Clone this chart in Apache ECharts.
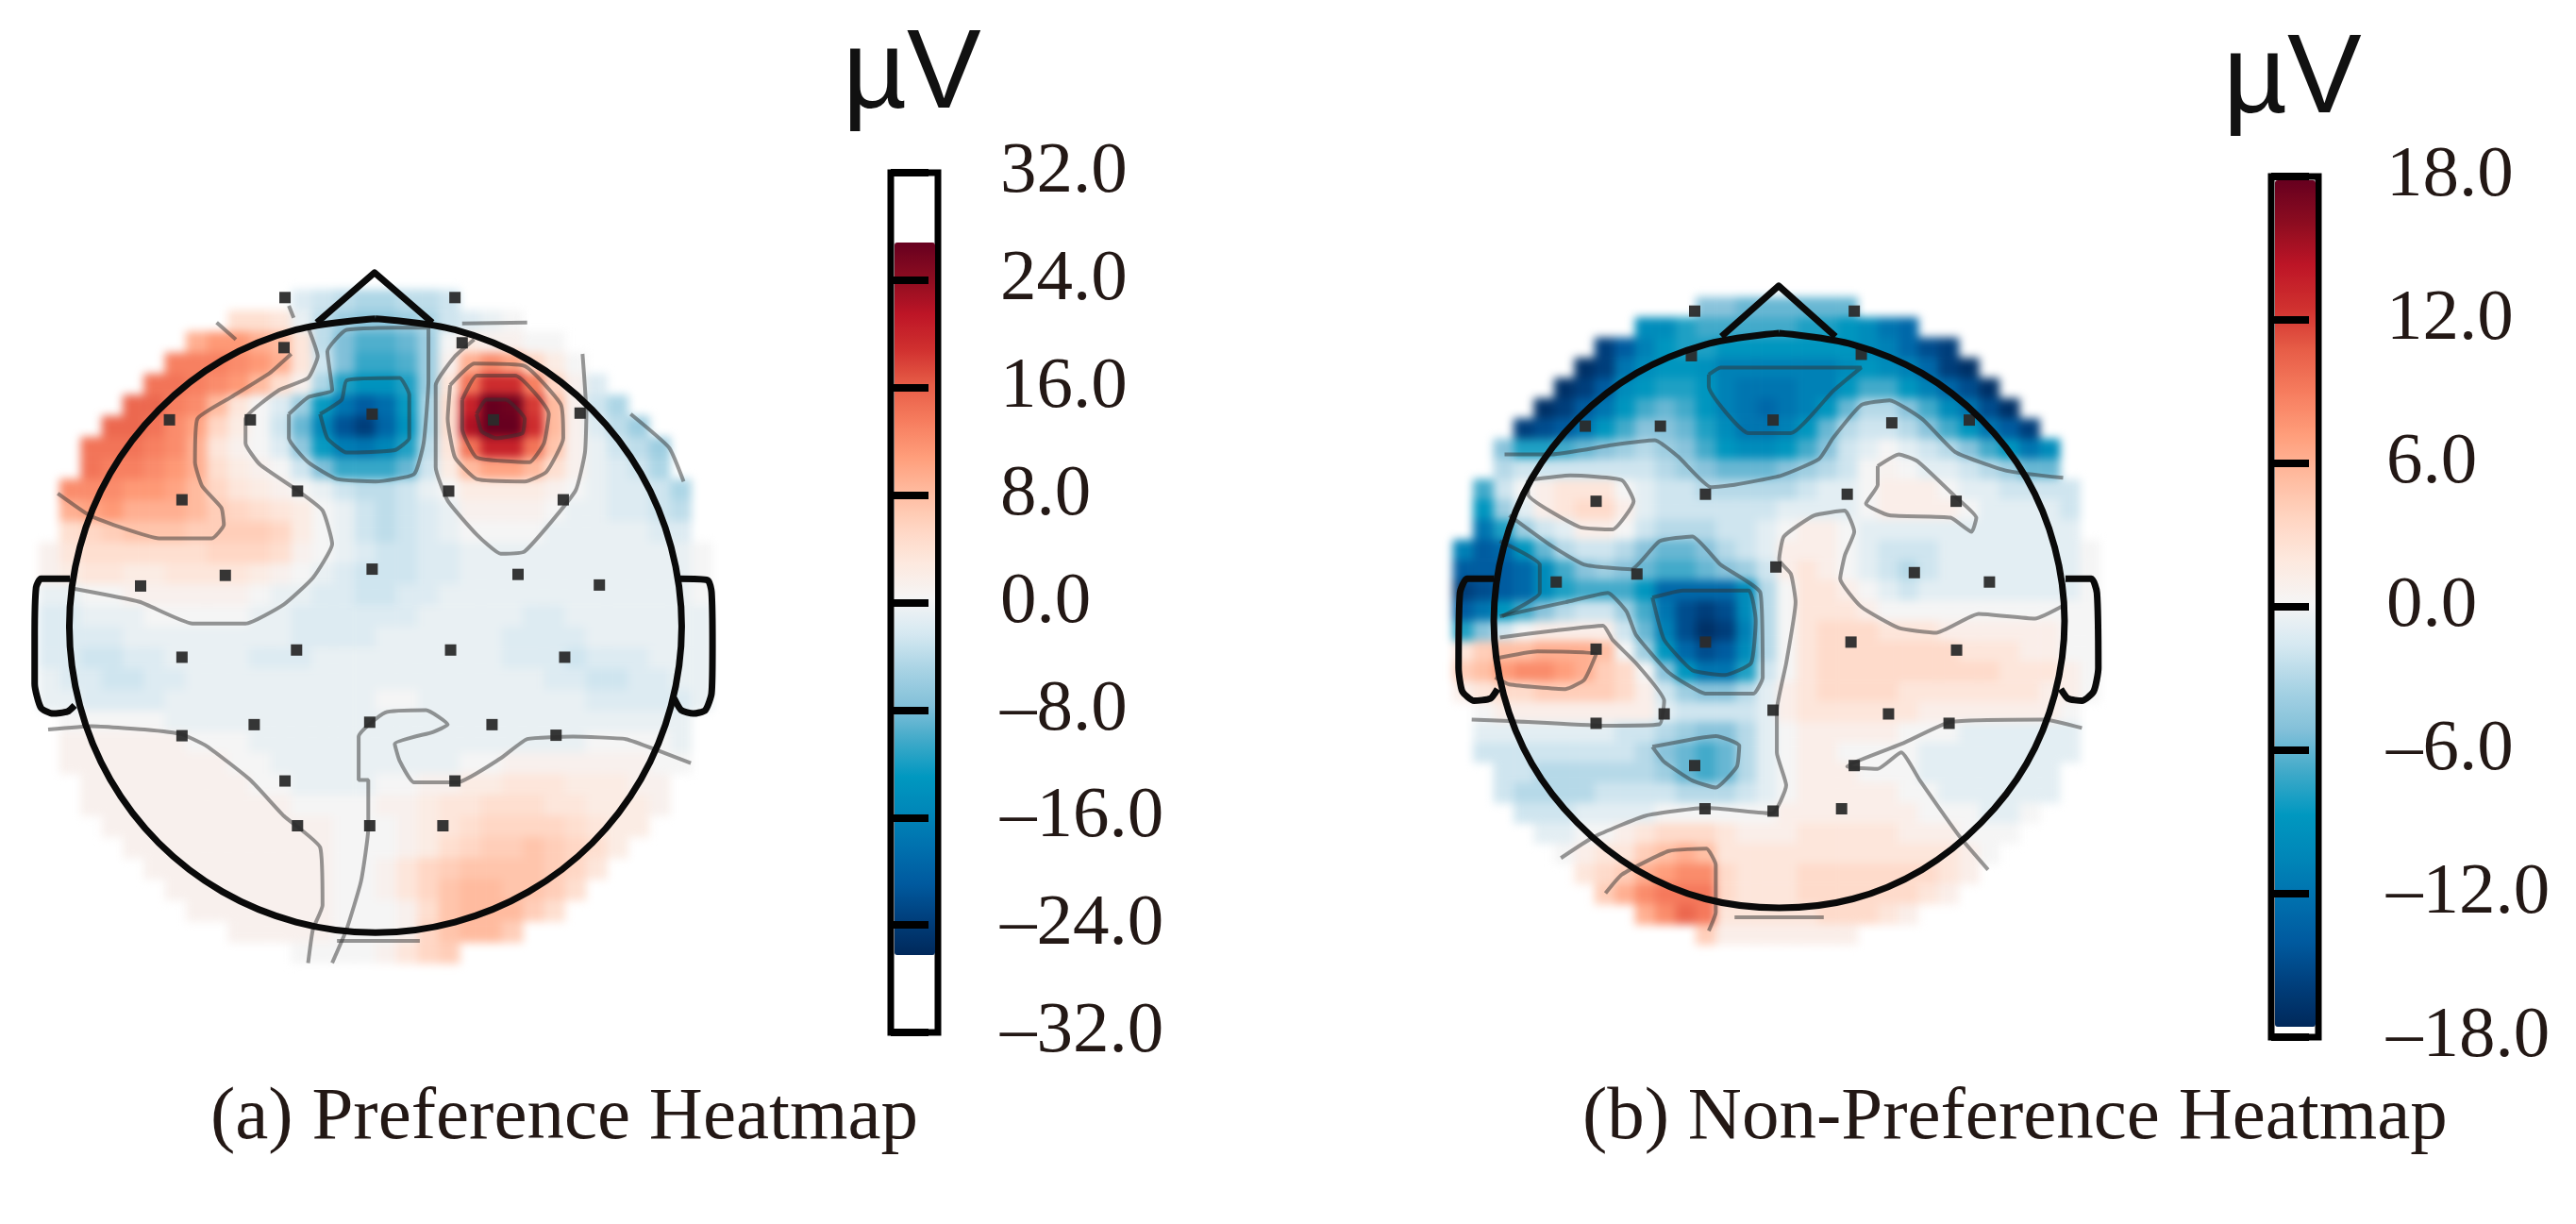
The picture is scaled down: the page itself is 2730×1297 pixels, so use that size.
<!DOCTYPE html>
<html><head><meta charset="utf-8">
<style>html,body{margin:0;padding:0;background:#fff}#c{width:2730px;height:1297px}</style>
<script src="https://cdn.jsdelivr.net/npm/echarts@6/dist/echarts.min.js"></script>
</head><body><div id="c"></div>
<script>
// Colour scale
const paletteStops = ['#00285a','#003f7c','#005a9f','#0070ae','#0086b8','#0098c0','#3fa9c9','#82c0d9','#a8d3e4','#d5e8f1','#f5f5f5','#fde9df','#ffd5c2','#ffbb9f','#ff9d7a','#f67c5e','#e75d47','#d0302f','#bd1526','#8c0c20','#67001f'];
const rangeA = 26.6, rangeB = 17.7;

// Scalp voltage (µV) by image row; every row is centred in the 32-cell-wide map
const rowsA = [
[-2,-3,-4,-5,-5,-4,-4,-3],
[4,4,3,-1,-4,-6,-7,-7,-6,-5,-3,-2,-1,0],
[9,11,11,9,8,3,-4,-8,-10,-10,-9,-6,0,2,1,1,0,0],
[13,13,13,12,11,9,3,-3,-8,-11,-11,-10,-6,1,9,12,10,5,2,0],
[14,14,13,12,11,8,4,1,-5,-12,-14,-14,-12,-6,3,14,19,19,13,5,1,-2],
[15,15,13,12,8,3,0,-2,-6,-13,-18,-21,-19,-13,-5,4,20,27,26,18,8,1,-3,-5],
[15,15,14,12,10,5,2,0,-3,-9,-16,-22,-24,-20,-14,-5,4,22,27,27,19,8,1,-2,-4,-6],
[14,14,14,13,12,9,3,1,0,-2,-7,-13,-17,-18,-16,-12,-4,3,14,20,20,14,7,1,-1,-3,-4,-6],
[14,13,13,12,11,9,4,2,1,0,-3,-8,-11,-11,-11,-9,-3,2,8,10,10,8,4,1,-1,-2,-3,-5],
[12,12,12,11,11,10,8,5,3,2,1,0,-1,-3,-4,-4,-3,-1,0,2,2,2,2,1,0,-1,-2,-2,-3,-5],
[9,10,11,9,9,9,8,6,5,4,3,2,0,-1,-3,-4,-3,-2,-1,1,1,1,1,0,-1,-1,-2,-2,-3,-4],
[4,5,6,7,7,7,6,6,6,6,5,2,0,-1,-3,-4,-3,-2,-1,0,0,0,0,-1,-1,-1,-1,-1,-2,-2],
[1,3,4,4,4,4,4,4,5,5,5,4,1,0,-1,-2,-3,-3,-2,-2,-1,-1,-1,-1,-1,-1,-1,-1,-1,-1,-1,0],
[1,2,3,3,2,2,3,3,3,3,2,1,0,-1,-2,-3,-3,-3,-2,-2,-1,-1,-1,-1,-1,-1,-1,-1,-1,-1,-1,0],
[-1,-1,0,0,1,1,1,1,1,1,0,-1,-1,-2,-2,-3,-3,-2,-2,-1,-1,-1,-1,-1,-1,-1,-1,-1,-1,-1,-1,0],
[-2,-2,-1,-1,-1,0,0,0,0,0,-1,-1,-2,-2,-2,-2,-2,-2,-1,-1,-1,-1,-1,-2,-2,-1,-1,-1,-1,-1,-1,-1],
[-2,-2,-2,-2,-1,-1,-1,-1,-1,-1,-1,-1,-2,-2,-2,-2,-1,-1,-1,-1,-1,-1,-2,-2,-2,-2,-1,-1,-1,-1,-1,-1],
[-2,-2,-3,-3,-2,-2,-1,-1,-1,-1,-2,-2,-2,-1,-1,-1,-1,-1,-1,-1,-1,-1,-2,-2,-2,-3,-2,-2,-2,-1,-1,-1],
[-1,-2,-2,-3,-3,-2,-2,-1,-1,-1,-1,-1,-1,-1,-1,-1,-1,-1,-1,-1,-1,-1,-1,-1,-2,-2,-3,-3,-2,-2,-1,-1],
[-1,-1,-2,-2,-2,-2,-1,-1,-1,-1,-1,-1,-1,-1,-1,-1,0,0,-1,-1,-1,-1,-1,-1,-1,-1,-2,-2,-2,-2,-2,-1],
[0,0,0,0,0,-1,-1,-1,-1,-1,-1,-1,-1,-1,-1,-1,-1,-1,-1,-1,-1,-1,-1,-1,-1,-1,-1,-1,-1,-1],
[1,1,1,1,1,1,0,0,0,-1,-1,-1,-1,-1,-1,-1,-1,-1,-1,-1,-1,-1,-1,-1,-1,0,0,0,0,-1],
[1,1,1,1,1,1,1,1,0,0,-1,-1,-1,-1,-1,-1,-1,-1,-1,0,0,1,1,1,1,1,1,1,0,0],
[1,1,1,1,1,1,1,1,0,0,-1,-1,-1,-1,0,0,1,1,2,2,3,3,3,2,2,2,1,1],
[1,1,1,1,1,1,1,1,1,1,0,0,0,0,1,1,2,3,3,4,4,4,3,3,2,2,2,1],
[1,1,1,1,1,1,1,1,1,1,1,0,0,0,1,2,3,4,5,5,5,5,4,3,2,2],
[1,1,1,1,1,1,1,1,1,1,0,0,0,1,2,4,5,6,6,7,6,5,4,2],
[1,1,1,1,1,1,1,1,1,0,0,1,3,5,6,7,7,7,7,6,5,3],
[1,1,1,1,1,1,1,1,0,0,1,3,5,7,8,8,7,7,6,4],
[1,1,1,1,1,1,1,0,0,0,1,4,7,8,8,8,6,4],
[1,1,1,1,1,0,0,0,1,5,7,8,8,6],
[0,0,0,0,1,3,5,6]
];
const rowsB = [
[-5,-5,-6,-6,-6,-6,-6,-6],
[-10,-10,-8,-7,-7,-7,-7,-7,-8,-8,-9,-10,-12,-13],
[-16,-14,-11,-9,-8,-8,-9,-9,-9,-9,-9,-9,-9,-10,-11,-13,-15,-16],
[-17,-16,-12,-10,-9,-9,-9.5,-11,-11,-11,-11,-11,-11,-10,-9,-10,-11,-13,-16,-17],
[-17,-16,-14,-10,-9,-8,-8,-9,-11,-12,-12,-12,-11,-11,-9,-7,-7,-9,-11,-13,-15,-17],
[-17,-16,-14,-12,-9,-7,-6,-7,-9,-11,-12,-13,-12,-11,-9,-6,-3,-3,-5,-7,-10,-12,-15,-17],
[-16,-15,-14,-12,-9,-7,-5,-5,-6,-8,-10,-12,-12,-11,-9,-6,-3,-2,-2,-3,-5,-7,-9,-12,-14,-16],
[-5,-8,-8,-7,-6,-5,-4,-3,-4,-5,-7,-9,-10,-10,-9,-7,-5,-2,-1,0,-1,-2,-3,-5,-7,-9,-12,-10],
[-3,-2,-2,-2,-2,-2,-2,-2,-3,-4,-5,-6,-6,-6,-5,-4,-3,-2,0,0.5,0,-1,-1,-2,-3,-4,-6,-6],
[-7,-2,0,1,2,2,2,0,-1,-2,-2,-3,-3,-3,-3,-3,-2,-1,-1,0,1,1,1,0,-1,-1,-2,-2,-2,-2],
[-9,-4,-1,1,2,3,3,1,-1,-2,-2,-2,-2,-2,-2,-1,-1,-1,-1,0,1,1,1,1,0,-1,-1,-1,-1,-2],
[-12,-8,-4,-2,-1,1,1,0,-2,-3,-3,-3,-2,-2,-1,0,1,1,0,-1,-1,-1,-1,-1,-1,-1,-1,-1,-1,-1],
[-11,-14,-13,-9,-6,-3,-2,-2,-3,-5,-6,-6,-5,-3,-2,-1,1,1,1,0,-1,-2,-2,-2,-1,-1,-1,-1,-1,-1,-1,0],
[-14,-14,-14,-13,-10,-7,-5,-4,-5,-6,-7,-7,-6,-5,-4,-2,1,2,1,0,-1,-2,-3,-2,-1,-1,-1,-1,-1,-1,-1,0],
[-16,-15,-14,-13,-10,-8,-7,-7,-7,-9,-13,-13,-13,-13,-10,-3,0,2,2,1,0,-1,-2,-1,-1,-1,-1,-1,-1,-1,-1,0],
[-14,-12,-9,-7,-5,-3,-2,-2,-4,-7,-12,-15,-16,-15,-10,-3,0,2,2,2,1,0,0,0,0,0,0,0,0,0,0,0],
[-8,-5,-2,0,1,1,1,1,-2,-6,-11,-15,-17,-16,-11,-3,0,2,3,3,3,2,2,2,1,1,1,1,1,1,0,0],
[2,4,5,5,6,6,6,5,0,-4,-9,-13,-15,-14,-10,-3,0,2,3,3,3,3,3,3,3,2,2,2,1,1,0,0],
[4,5,7,8,8,7,6,4,3,0,-5,-9,-12,-12,-8,-2,0,2,3,3,3,3,3,3,3,3,3,2,2,2,1,0],
[1,2,3,3,4,4,4,4,3,1,-2,-4,-5,-5,-3,-1,1,2,3,3,3,3,2,2,2,2,2,2,2,1,1,0],
[0,1,1,1,1,1,1,1,1,-1,-2,-2,-2,-2,-1,1,2,2,2,2,2,2,1,1,1,1,1,1,1,0],
[-1,-1,-1,-1,-1,-1,-1,-2,-2,-3,-4,-5,-5,-3,-1,0,1,1,1,1,1,0,0,0,-1,-1,-1,-1,-1,-1],
[-2,-2,-2,-2,-2,-2,-2,-2,-3,-5,-6,-7,-6,-3,-1,0,1,1,0,0,0,0,-1,-1,-1,-1,-1,-1,-1,-1],
[-2,-2,-3,-3,-3,-3,-3,-3,-4,-6,-7,-6,-3,-1,0,1,1,1,0,0,0,-1,-1,-1,-1,-1,-1,-1],
[-2,-3,-3,-3,-3,-2,-2,-2,-2,-3,-3,-3,-2,-1,0,1,1,1,1,1,0,0,-1,-1,-1,-1,-1,-1],
[-2,-2,-2,-1,-1,-1,-1,0,0,0,0,0,0,1,1,1,1,1,1,1,0,0,0,-1,-1,0],
[-1,-1,0,0,1,2,3,3,3,2,1,1,1,2,2,2,2,2,1,1,1,0,0,0],
[0,1,2,2,4,5,6,5,2,2,2,2,2,2,2,2,2,2,2,2,1,0],
[2,3,4,6,7,8,8,3,2,2,2,3,3,3,3,3,3,3,2,1],
[4,6,8,9,9,9,3,2,2,2,3,3,3,3,3,3,2,1],
[6,8,10,9,2,2,2,2,2,3,3,3,2,1],
[4,1,1,1,1,1,1,1]
];

// Electrode positions on each scalp panel (panel units)
const sensorsA = [[592,128],[945,128],[590,232],[960,222],[352,382],[520,382],[773,370],[1025,382],[1205,368],[378,548],[618,530],[932,530],[1170,548],[292,727],[468,705],[773,692],[1076,703],[1245,725],[378,875],[616,860],[936,860],[1173,875],[528,1015],[768,1010],[1022,1015],[378,1038],[1155,1037],[592,1132],[945,1132],[618,1225],[768,1225],[920,1225]];
const sensorsB = [[595,120],[935,120],[588,215],[950,212],[362,365],[522,365],[762,352],[1015,358],[1180,352],[385,525],[618,510],[920,510],[1152,525],[300,697],[472,680],[768,665],[1063,677],[1223,697],[385,840],[618,825],[928,825],[1153,842],[530,978],[762,970],[1008,978],[385,998],[1137,998],[595,1088],[935,1088],[617,1180],[762,1185],[908,1180]];

// Head outline, nose and ears
const headA = [[780,172],[945,195],[1098,258],[1230,361],[1331,493],[1394,646],[1416,811],[1394,976],[1331,1129],[1230,1261],[1098,1362],[945,1425],[780,1447],[615,1425],[462,1362],[330,1261],[229,1129],[166,976],[144,811],[166,646],[229,493],[330,361],[462,258],[615,195],[780,172]];
const noseA = [[658,180],[778,76],[898,180]];
const earLeftA = [[145,712],[85,712],[75,730],[72,830],[72,930],[85,980],[110,992],[140,988],[155,975]];
const earRightA = [[1410,712],[1470,715],[1478,740],[1480,850],[1478,950],[1465,985],[1440,992],[1415,985],[1400,960]];
const headB = [[775,167],[932,191],[1079,252],[1205,350],[1302,476],[1362,623],[1383,780],[1362,937],[1302,1084],[1205,1210],[1079,1310],[932,1372],[775,1391],[618,1372],[471,1310],[345,1210],[248,1084],[188,937],[167,780],[188,623],[248,476],[345,350],[471,252],[618,191],[775,167]];
const noseB = [[652,174],[774,66],[895,174]];
const earLeftB = [[168,690],[110,690],[95,720],[92,880],[100,930],[125,950],[160,945],[175,925]];
const earRightB = [[1385,690],[1440,690],[1452,720],[1455,880],[1445,930],[1420,950],[1390,945],[1375,925]];

// Iso-voltage contour lines
const contoursA = [
[[120,535],[185,580],[250,605],[330,628],[440,628],[465,600],[460,565],[420,520],[405,470],[410,380],[480,335],[560,285],[605,245]],
[[450,180],[490,215]],
[[150,732],[290,760],[400,805],[510,805],[590,765],[650,710],[690,640],[670,570],[620,530],[540,475],[510,430],[510,380],[580,320],[640,295],[660,250],[640,190]],
[[600,370],[640,335],[690,320],[680,240],[720,195],[890,190],[890,300],[880,430],[860,495],[780,510],[700,505],[640,470],[600,420],[600,370]],
[[665,370],[710,340],[720,300],[830,295],[850,330],[850,420],[820,445],[720,450],[680,420],[665,370]],
[[960,182],[1095,180]],
[[1210,245],[1218,370],[1215,450],[1195,530],[1090,655],[1040,660],[990,620],[930,550],[905,480],[905,310],[945,250],[985,215]],
[[935,310],[985,265],[1090,270],[1165,350],[1170,420],[1135,490],[1090,510],[990,505],[945,460],[930,380],[935,310]],
[[960,340],[990,290],[1070,290],[1140,370],[1130,430],[1100,470],[990,460],[960,400],[960,340]],
[[990,370],[1010,340],[1050,340],[1090,380],[1085,410],[1030,420],[1000,405],[990,370]],
[[1310,370],[1390,440],[1420,510]],
[[100,1025],[190,1018],[300,1025],[378,1035],[430,1060],[520,1130],[590,1205],[665,1270],[670,1390],[650,1440],[640,1510]],
[[690,1510],[720,1440],[750,1340],[765,1230],[765,1130],[745,1130],[745,1040],[800,990],[885,985],[930,1015],[900,1030],[820,1055],[830,1090],[860,1135],[950,1135],[1040,1085],[1095,1045],[1190,1040],[1300,1045],[1370,1070],[1435,1095]],
[[600,145],[610,170]],
[[700,1464],[872,1464]]
];
const contoursB = [
[[190,425],[290,425],[420,405],[510,395],[560,430],[630,495],[680,490],[780,470],[860,435],[890,390],[950,320],[1010,310],[1080,350],[1150,420],[1260,460],[1380,475]],
[[625,255],[650,240],[950,240],[890,290],[800,380],[710,380],[625,280],[625,255]],
[[240,480],[330,470],[440,480],[465,525],[420,585],[350,580],[240,510],[240,480]],
[[200,555],[290,620],[360,660],[460,670],[520,610],[590,600],[650,660],[735,720],[740,900],[720,935],[620,935],[540,890],[470,810],[450,760],[410,720],[320,740],[180,770]],
[[505,730],[570,715],[710,715],[725,780],[715,870],[660,895],[590,885],[530,820],[505,730]],
[[180,815],[300,800],[400,790],[420,820],[470,870],[530,950],[520,1000],[400,1003],[200,993],[120,990]],
[[170,860],[260,845],[385,850],[360,905],[320,925],[200,915],[170,900]],
[[180,610],[265,660],[265,720],[185,770]],
[[505,1048],[640,1025],[690,1045],[685,1090],[640,1135],[590,1120],[530,1080],[505,1048]],
[[310,1285],[380,1240],[490,1195],[620,1178],[760,1190],[790,1130],[770,1060],[770,970],[790,870],[810,740],[800,680],[775,650],[785,600],[850,555],[915,545],[935,590],[915,640],[905,690],[950,750],[1030,795],[1110,805],[1200,765],[1320,775],[1385,745]],
[[985,450],[1030,425],[1070,440],[1150,515],[1195,560],[1185,590],[1140,560],[1010,555],[960,530],[985,490],[985,450]],
[[1420,1008],[1340,990],[1140,995],[1040,1040],[920,1090],[985,1095],[1035,1060],[1075,1120],[1160,1240],[1220,1310]],
[[405,1360],[440,1320],[540,1270],[620,1265],[640,1300],[640,1400],[625,1440]],
[[680,1411],[870,1411]]
];

const captionA = '(a) Preference Heatmap';
const captionB = '(b) Non-Preference Heatmap';
const unitLabel = 'µV';

const N = 32, TOP = 1;
const cats = Array.from({length:N},(_,i)=>String(i));
function cells(rows){
  const out=[];
  rows.forEach((r,j)=>{const off=Math.floor((N-r.length)/2);r.forEach((v,i)=>out.push([i+off,j,v]));});
  return out;
}
const fmt = v => (v<0?'\u2013':'')+Math.abs(v).toFixed(1);
const serif = '"Liberation Serif","Times New Roman",serif';
const hiddenVal = (g,extra)=>Object.assign({type:'value',gridIndex:g,show:false,min:0,max:1568,splitLine:{show:false}},extra||{});
const hiddenCat = (g,extra)=>Object.assign({type:'category',gridIndex:g,show:false,data:cats},extra||{});
const barY = (g,lim,step,margin)=>({type:'value',gridIndex:g,position:'right',min:-lim,max:lim,interval:step,zlevel:TOP,z:6,
  splitLine:{show:false},axisLine:{show:false},
  axisTick:{show:true,length:40,lineStyle:{color:'#000',width:8,cap:'butt'}},
  axisLabel:{show:true,margin:margin,formatter:fmt,color:'#231815',fontFamily:serif,fontSize:77,align:'left',showMinLabel:true,showMaxLabel:true,hideOverlap:false}});

function outline(pts,ax,smooth,w){
  return {type:'line',xAxisIndex:ax,yAxisIndex:ax,data:pts,symbol:'none',smooth:smooth,zlevel:TOP,z:5,silent:true,
    lineStyle:{color:'#0a0a0a',width:w,join:'round'}};
}
function contour(pts,ax){
  return {type:'line',xAxisIndex:ax,yAxisIndex:ax,data:pts,symbol:'none',smooth:0.15,zlevel:TOP,z:3,silent:true,
    lineStyle:{color:'rgba(50,50,50,0.5)',width:4}};
}
function sensors(pts,ax){
  return {type:'scatter',xAxisIndex:ax,yAxisIndex:ax,data:pts,symbol:'rect',symbolSize:12,zlevel:TOP,z:4,silent:true,
    itemStyle:{color:'#2b2b2b',opacity:0.95}};
}
function heat(rows,ax){
  return {type:'heatmap',xAxisIndex:ax,yAxisIndex:ax,data:cells(rows),zlevel:0,silent:true,progressive:0,itemStyle:{borderWidth:0}};
}
function vm(series,lim,left,top,h){
  return {type:'continuous',seriesIndex:series,min:-lim,max:lim,calculable:false,show:true,realtime:false,hoverLink:false,
    left:left,top:top,itemWidth:43,itemHeight:h,padding:0,text:null,showLabel:false,zlevel:TOP,z:4,
    textStyle:{color:'transparent',fontSize:1},inRange:{color:paletteStops}};
}
function caption(t,left,top){return {text:t,left:left,top:top,padding:0,zlevel:TOP,textStyle:{fontFamily:serif,fontWeight:'normal',fontSize:79,color:'#231815'}};}
function unit(left,top){return {text:unitLabel,left:left,top:top,padding:0,zlevel:TOP,textStyle:{fontFamily:'"Liberation Sans",Arial,sans-serif',fontWeight:'normal',fontSize:118,color:'#111'}};}

const chart = echarts.init(document.getElementById('c'),null,{renderer:'canvas',width:2730,height:1297});
const frame = {show:true,borderColor:'#000',borderWidth:7,backgroundColor:'#fff',zlevel:TOP,z:1};
const series = [heat(rowsA,0),heat(rowsB,3)];
contoursA.forEach(c=>series.push(contour(c,1)));
contoursB.forEach(c=>series.push(contour(c,4)));
series.push(sensors(sensorsA,1),sensors(sensorsB,4));
series.push(outline(headA,1,0.35,7),outline(noseA,1,false,7),outline(earLeftA,1,0.2,7),outline(earRightA,1,0.2,7));
series.push(outline(headB,4,0.35,7),outline(noseB,4,false,7),outline(earLeftB,4,0.2,7),outline(earRightB,4,0.2,7));

chart.setOption({
  animation:false,
  backgroundColor:'transparent',
  tooltip:{show:false},
  title:[caption(captionA,223,1146),caption(captionB,1677,1146),unit(893,22),unit(2356,27)],
  grid:[
    {left:41,top:307,width:714,height:714,show:false},
    {left:0,top:250,width:800,height:800,show:false},
    Object.assign({left:944,top:183,width:50,height:911},frame),
    {left:1540,top:315,width:686,height:686,show:false},
    {left:1500,top:270,width:780,height:780,show:false},
    Object.assign({left:2407,top:187,width:50,height:912},frame)
  ],
  xAxis:[hiddenCat(0),hiddenVal(1),hiddenVal(2),hiddenCat(3),hiddenVal(4),hiddenVal(5)],
  yAxis:[hiddenCat(0,{inverse:true}),hiddenVal(1,{inverse:true}),barY(2,32,8,66),hiddenCat(3,{inverse:true}),hiddenVal(4,{inverse:true}),barY(5,18,6,72)],
  visualMap:[vm(0,rangeA,948,257,755),vm(1,rangeB,2411,191,897)],
  series:series
});
const cv = chart.getDom().querySelectorAll('canvas')[0];
if(cv) cv.style.filter='blur(5px)';
</script></body></html>
